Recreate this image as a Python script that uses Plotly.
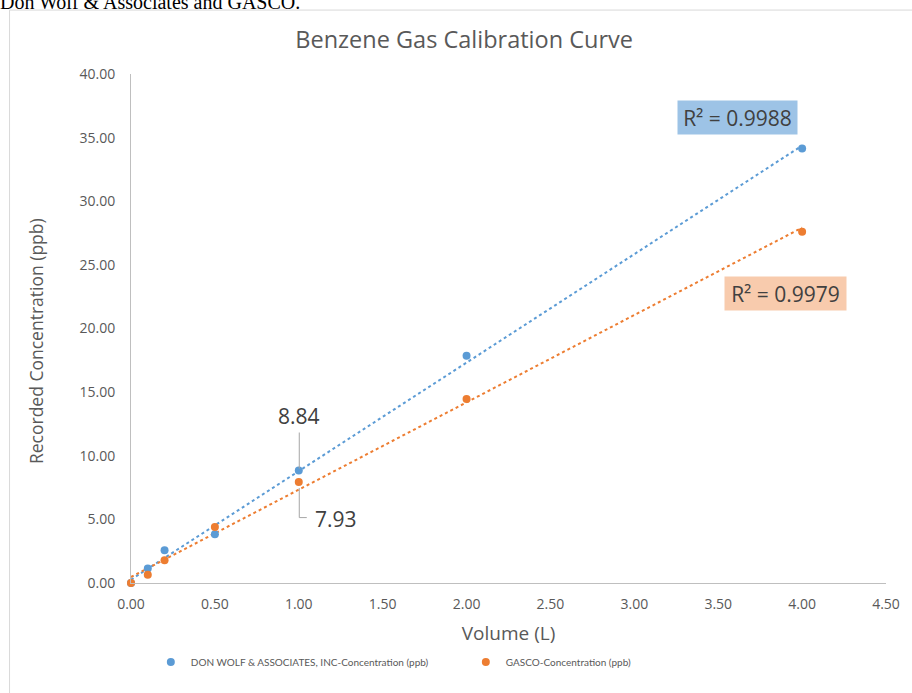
import numpy as np
import plotly.graph_objects as go

volume = [0.0, 0.1, 0.2, 0.5, 1.0, 2.0, 4.0]
donwolf = [0.0, 1.13, 2.57, 3.83, 8.84, 17.85, 34.15]
gasco = [0.0, 0.65, 1.79, 4.41, 7.93, 14.45, 27.6]
series_names = ["DON WOLF & ASSOCIATES, INC-Concentration (ppb)", "GASCO-Concentration (ppb)"]
r2_labels = ["R² = 0.9988", "R² = 0.9979"]
x_ticks = [0, 0.5, 1, 1.5, 2, 2.5, 3, 3.5, 4, 4.5]
y_ticks = [0, 5, 10, 15, 20, 25, 30, 35, 40]

BLUE = "#5B9BD5"
ORANGE = "#ED7D31"
TXT = "#595959"
FONT = "Open Sans"

W, H = 912, 693
L, R, T, B = 131, 19.5, 73.5, 110
PW, PH = W - L - R, H - T - B

fig = go.Figure()

# trendlines (linear fit, dotted)
for ys, col in [(donwolf, BLUE), (gasco, ORANGE)]:
    m, b = np.polyfit(volume, ys, 1)
    xs = [min(volume), max(volume)]
    fig.add_trace(go.Scatter(x=xs, y=[m * v + b for v in xs], mode="lines",
                             line=dict(color=col, width=2, dash="dot"),
                             showlegend=False, hoverinfo="skip", cliponaxis=False))

for ys, col, name in [(donwolf, BLUE, series_names[0]), (gasco, ORANGE, series_names[1])]:
    fig.add_trace(go.Scatter(x=volume, y=ys, mode="markers", name=name,
                             marker=dict(color=col, size=8), cliponaxis=False))

fig.update_layout(
    width=W, height=H,
    paper_bgcolor="white", plot_bgcolor="white",
    margin=dict(l=L, r=R, t=T, b=B),
    font=dict(family=FONT, color=TXT),
    title=dict(text="Benzene Gas Calibration Curve", x=(467 - L) / PW, xref="paper",
               xanchor="center", y=1 - 40 / H, yanchor="middle",
               font=dict(size=23.5, color=TXT, family=FONT)),
    xaxis=dict(range=[0, 4.5], tickvals=x_ticks, tickformat=".2f", showgrid=False,
               zeroline=False, showline=True, linecolor="#BFBFBF", linewidth=1,
               ticks="", tickfont=dict(size=14, color=TXT), ticklabelstandoff=8,
               title=dict(text="Volume (L)", font=dict(size=19, color=TXT), standoff=14)),
    yaxis=dict(range=[0, 40], tickvals=y_ticks, tickformat=".2f", showgrid=False,
               zeroline=False, showline=True, linecolor="#BFBFBF", linewidth=1,
               ticks="", tickfont=dict(size=14, color=TXT), ticklabelstandoff=12),
    legend=dict(orientation="h", x=(151 - L) / PW, xanchor="left", y=(583 - 662) / PH, yanchor="middle",
                font=dict(size=10, color=TXT, family="Lato"), entrywidth=270, itemwidth=30,
                bgcolor="rgba(0,0,0,0)"),
)

# y-axis title (placed as in the reference, slightly below the plot centre)
fig.add_annotation(text="Recorded Concentration (ppb)", xref="paper", yref="paper",
                   x=(35 - L) / PW, y=(583 - 341) / PH, xanchor="center", yanchor="middle",
                   textangle=-90, showarrow=False, font=dict(size=17.5, color=TXT, family=FONT))

# chart frame
fig.add_shape(type="rect", xref="paper", yref="paper",
              x0=(8.5 - L) / PW, x1=1.05, y0=-0.4, y1=(583 - 9.5) / PH,
              line=dict(color="#D9D9D9", width=1), fillcolor="rgba(0,0,0,0)", layer="below")

# document text above the chart (cut off)
fig.add_annotation(text="Don Wolf & Associates and GASCO.", xref="paper", yref="paper",
                   x=(-3 - L) / PW, y=(583 - 14) / PH, xanchor="left", yanchor="bottom",
                   showarrow=False, font=dict(family="Liberation Serif", size=20, color="black"))

# R² boxes
fig.add_annotation(text=r2_labels[0], xref="paper", yref="paper", x=(742.5 - L) / PW,
                   y=(583 - 117) / PH, xanchor="center", yanchor="middle", showarrow=False,
                   bgcolor="#9DC3E6", width=115, height=29, borderpad=2,
                   font=dict(size=21, color="#404040", family=FONT))
fig.add_annotation(text=r2_labels[1], xref="paper", yref="paper", x=(791.5 - L) / PW,
                   y=(583 - 293) / PH, xanchor="center", yanchor="middle", showarrow=False,
                   bgcolor="#F8CBAD", width=117, height=29, borderpad=2,
                   font=dict(size=21, color="#404040", family=FONT))

# data labels with leader lines
i1 = volume.index(1.0)
fig.add_annotation(text=f"{donwolf[i1]:.2f}", x=volume[i1], y=donwolf[i1], showarrow=False,
                   xanchor="center", yanchor="middle", yshift=54.5,
                   font=dict(size=21, color="#404040", family=FONT))
fig.add_shape(type="path", xref="x", yref="y", xsizemode="pixel", ysizemode="pixel",
              xanchor=volume[i1], yanchor=donwolf[i1], path="M 0.5,2 L 0.5,38",
              line=dict(color="#A6A6A6", width=1))
fig.add_annotation(text=f"{gasco[i1]:.2f}", x=volume[i1], y=gasco[i1], showarrow=False,
                   xanchor="center", yanchor="middle", xshift=37, yshift=-37,
                   font=dict(size=21, color="#404040", family=FONT))
fig.add_shape(type="path", xref="x", yref="y", xsizemode="pixel", ysizemode="pixel",
              xanchor=volume[i1], yanchor=gasco[i1], path="M 0.5,-6 L 0.5,-35.5 L 8,-35.5",
              line=dict(color="#A6A6A6", width=1))

fig.write_html("out.html", config={"displayModeBar": False},
               post_script="document.body.style.margin='0px';document.body.style.overflow='hidden';")
